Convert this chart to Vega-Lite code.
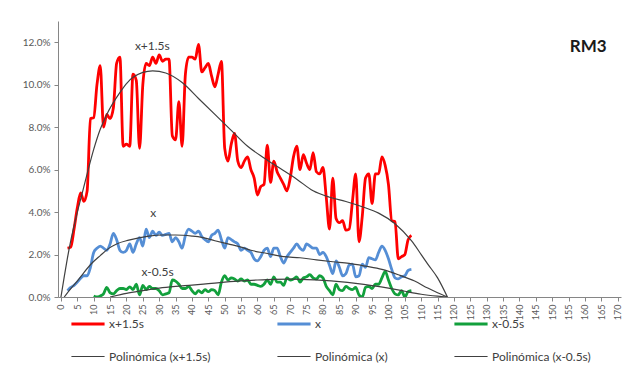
{
  "$schema": "https://vega.github.io/schema/vega-lite/v6.json",
  "autosize": {"type": "none"},
  "padding": {"left": 58, "top": 21, "right": 11, "bottom": 83},
  "width": 563,
  "height": 276,
  "background": "white",
  "config": {
    "view": {"stroke": null},
    "font": "Lato",
    "axis": {"domainColor": "#868686", "tickColor": "#868686", "labelColor": "#595959", "grid": false, "labelFont": "Lato", "title": null}
  },
  "datasets": {
    "obs": [
      {"s":"x+1.5s","v":2,"p":0.023},{"s":"x+1.5s","v":3,"p":0.0235},{"s":"x+1.5s","v":4,"p":0.032},{"s":"x+1.5s","v":5,"p":0.042},{"s":"x+1.5s","v":6,"p":0.049},{"s":"x+1.5s","v":7,"p":0.045},{"s":"x+1.5s","v":8,"p":0.05},{"s":"x+1.5s","v":9,"p":0.084},{"s":"x+1.5s","v":10,"p":0.0845},{"s":"x+1.5s","v":11,"p":0.1},{"s":"x+1.5s","v":12,"p":0.109},{"s":"x+1.5s","v":13,"p":0.08},{"s":"x+1.5s","v":14,"p":0.086},{"s":"x+1.5s","v":15,"p":0.084},{"s":"x+1.5s","v":16,"p":0.089},{"s":"x+1.5s","v":17,"p":0.11},{"s":"x+1.5s","v":18,"p":0.113},{"s":"x+1.5s","v":19,"p":0.071},{"s":"x+1.5s","v":20,"p":0.072},{"s":"x+1.5s","v":21,"p":0.071},{"s":"x+1.5s","v":22,"p":0.105},{"s":"x+1.5s","v":23,"p":0.102},{"s":"x+1.5s","v":24,"p":0.07},{"s":"x+1.5s","v":25,"p":0.1},{"s":"x+1.5s","v":26,"p":0.11},{"s":"x+1.5s","v":27,"p":0.109},{"s":"x+1.5s","v":28,"p":0.113},{"s":"x+1.5s","v":29,"p":0.11},{"s":"x+1.5s","v":30,"p":0.114},{"s":"x+1.5s","v":31,"p":0.111},{"s":"x+1.5s","v":32,"p":0.112},{"s":"x+1.5s","v":33,"p":0.112},{"s":"x+1.5s","v":34,"p":0.076},{"s":"x+1.5s","v":35,"p":0.074},{"s":"x+1.5s","v":36,"p":0.092},{"s":"x+1.5s","v":37,"p":0.071},{"s":"x+1.5s","v":38,"p":0.105},{"s":"x+1.5s","v":39,"p":0.113},{"s":"x+1.5s","v":40,"p":0.113},{"s":"x+1.5s","v":41,"p":0.112},{"s":"x+1.5s","v":42,"p":0.119},{"s":"x+1.5s","v":43,"p":0.106},{"s":"x+1.5s","v":44,"p":0.108},{"s":"x+1.5s","v":45,"p":0.11},{"s":"x+1.5s","v":46,"p":0.104},{"s":"x+1.5s","v":47,"p":0.099},{"s":"x+1.5s","v":48,"p":0.105},{"s":"x+1.5s","v":49,"p":0.111},{"s":"x+1.5s","v":50,"p":0.07},{"s":"x+1.5s","v":51,"p":0.064},{"s":"x+1.5s","v":52,"p":0.072},{"s":"x+1.5s","v":53,"p":0.077},{"s":"x+1.5s","v":54,"p":0.064},{"s":"x+1.5s","v":55,"p":0.061},{"s":"x+1.5s","v":56,"p":0.064},{"s":"x+1.5s","v":57,"p":0.066},{"s":"x+1.5s","v":58,"p":0.06},{"s":"x+1.5s","v":59,"p":0.056},{"s":"x+1.5s","v":60,"p":0.048},{"s":"x+1.5s","v":61,"p":0.052},{"s":"x+1.5s","v":62,"p":0.053},{"s":"x+1.5s","v":63,"p":0.0715},{"s":"x+1.5s","v":64,"p":0.054},{"s":"x+1.5s","v":65,"p":0.064},{"s":"x+1.5s","v":66,"p":0.059},{"s":"x+1.5s","v":67,"p":0.056},{"s":"x+1.5s","v":68,"p":0.053},{"s":"x+1.5s","v":69,"p":0.05},{"s":"x+1.5s","v":70,"p":0.056},{"s":"x+1.5s","v":71,"p":0.066},{"s":"x+1.5s","v":72,"p":0.071},{"s":"x+1.5s","v":73,"p":0.06},{"s":"x+1.5s","v":74,"p":0.067},{"s":"x+1.5s","v":75,"p":0.063},{"s":"x+1.5s","v":76,"p":0.06},{"s":"x+1.5s","v":77,"p":0.068},{"s":"x+1.5s","v":78,"p":0.059},{"s":"x+1.5s","v":79,"p":0.058},{"s":"x+1.5s","v":80,"p":0.061},{"s":"x+1.5s","v":81,"p":0.047},{"s":"x+1.5s","v":82,"p":0.032},{"s":"x+1.5s","v":83,"p":0.056},{"s":"x+1.5s","v":84,"p":0.037},{"s":"x+1.5s","v":85,"p":0.035},{"s":"x+1.5s","v":86,"p":0.036},{"s":"x+1.5s","v":87,"p":0.0315},{"s":"x+1.5s","v":88,"p":0.032},{"s":"x+1.5s","v":89,"p":0.045},{"s":"x+1.5s","v":90,"p":0.058},{"s":"x+1.5s","v":91,"p":0.026},{"s":"x+1.5s","v":92,"p":0.038},{"s":"x+1.5s","v":93,"p":0.056},{"s":"x+1.5s","v":94,"p":0.058},{"s":"x+1.5s","v":95,"p":0.044},{"s":"x+1.5s","v":96,"p":0.058},{"s":"x+1.5s","v":97,"p":0.058},{"s":"x+1.5s","v":98,"p":0.066},{"s":"x+1.5s","v":99,"p":0.062},{"s":"x+1.5s","v":100,"p":0.053},{"s":"x+1.5s","v":101,"p":0.036},{"s":"x+1.5s","v":102,"p":0.0355},{"s":"x+1.5s","v":103,"p":0.018},{"s":"x+1.5s","v":104,"p":0.019},{"s":"x+1.5s","v":105,"p":0.02},{"s":"x+1.5s","v":106,"p":0.027},{"s":"x+1.5s","v":107,"p":0.029},
      {"s":"x","v":2,"p":0.003},{"s":"x","v":3,"p":0.0045},{"s":"x","v":4,"p":0.0055},{"s":"x","v":5,"p":0.007},{"s":"x","v":6,"p":0.0088},{"s":"x","v":7,"p":0.01},{"s":"x","v":8,"p":0.01},{"s":"x","v":9,"p":0.014},{"s":"x","v":10,"p":0.021},{"s":"x","v":11,"p":0.023},{"s":"x","v":12,"p":0.024},{"s":"x","v":13,"p":0.023},{"s":"x","v":14,"p":0.022},{"s":"x","v":15,"p":0.025},{"s":"x","v":16,"p":0.03},{"s":"x","v":17,"p":0.027},{"s":"x","v":18,"p":0.022},{"s":"x","v":19,"p":0.021},{"s":"x","v":20,"p":0.022},{"s":"x","v":21,"p":0.025},{"s":"x","v":22,"p":0.021},{"s":"x","v":23,"p":0.025},{"s":"x","v":24,"p":0.028},{"s":"x","v":25,"p":0.024},{"s":"x","v":26,"p":0.032},{"s":"x","v":27,"p":0.028},{"s":"x","v":28,"p":0.031},{"s":"x","v":29,"p":0.029},{"s":"x","v":30,"p":0.0305},{"s":"x","v":31,"p":0.029},{"s":"x","v":32,"p":0.0295},{"s":"x","v":33,"p":0.03},{"s":"x","v":34,"p":0.026},{"s":"x","v":35,"p":0.028},{"s":"x","v":36,"p":0.026},{"s":"x","v":37,"p":0.023},{"s":"x","v":38,"p":0.029},{"s":"x","v":39,"p":0.032},{"s":"x","v":40,"p":0.031},{"s":"x","v":41,"p":0.03},{"s":"x","v":42,"p":0.031},{"s":"x","v":43,"p":0.0285},{"s":"x","v":44,"p":0.027},{"s":"x","v":45,"p":0.026},{"s":"x","v":46,"p":0.029},{"s":"x","v":47,"p":0.03},{"s":"x","v":48,"p":0.0315},{"s":"x","v":49,"p":0.027},{"s":"x","v":50,"p":0.023},{"s":"x","v":51,"p":0.028},{"s":"x","v":52,"p":0.027},{"s":"x","v":53,"p":0.026},{"s":"x","v":54,"p":0.025},{"s":"x","v":55,"p":0.022},{"s":"x","v":56,"p":0.023},{"s":"x","v":57,"p":0.022},{"s":"x","v":58,"p":0.021},{"s":"x","v":59,"p":0.018},{"s":"x","v":60,"p":0.017},{"s":"x","v":61,"p":0.019},{"s":"x","v":62,"p":0.022},{"s":"x","v":63,"p":0.023},{"s":"x","v":64,"p":0.019},{"s":"x","v":65,"p":0.023},{"s":"x","v":66,"p":0.023},{"s":"x","v":67,"p":0.019},{"s":"x","v":68,"p":0.016},{"s":"x","v":69,"p":0.019},{"s":"x","v":70,"p":0.021},{"s":"x","v":71,"p":0.023},{"s":"x","v":72,"p":0.025},{"s":"x","v":73,"p":0.023},{"s":"x","v":74,"p":0.022},{"s":"x","v":75,"p":0.025},{"s":"x","v":76,"p":0.024},{"s":"x","v":77,"p":0.023},{"s":"x","v":78,"p":0.023},{"s":"x","v":79,"p":0.02},{"s":"x","v":80,"p":0.021},{"s":"x","v":81,"p":0.019},{"s":"x","v":82,"p":0.015},{"s":"x","v":83,"p":0.011},{"s":"x","v":84,"p":0.017},{"s":"x","v":85,"p":0.014},{"s":"x","v":86,"p":0.01},{"s":"x","v":87,"p":0.011},{"s":"x","v":88,"p":0.015},{"s":"x","v":89,"p":0.0155},{"s":"x","v":90,"p":0.0095},{"s":"x","v":91,"p":0.01},{"s":"x","v":92,"p":0.0155},{"s":"x","v":93,"p":0.014},{"s":"x","v":94,"p":0.0185},{"s":"x","v":95,"p":0.018},{"s":"x","v":96,"p":0.0175},{"s":"x","v":97,"p":0.021},{"s":"x","v":98,"p":0.024},{"s":"x","v":99,"p":0.022},{"s":"x","v":100,"p":0.018},{"s":"x","v":101,"p":0.013},{"s":"x","v":102,"p":0.009},{"s":"x","v":103,"p":0.0085},{"s":"x","v":104,"p":0.0095},{"s":"x","v":105,"p":0.01},{"s":"x","v":106,"p":0.0125},{"s":"x","v":107,"p":0.013},
      {"s":"x-0.5s","v":10,"p":0.0005},{"s":"x-0.5s","v":11,"p":0.0},{"s":"x-0.5s","v":12,"p":0.0005},{"s":"x-0.5s","v":13,"p":0.0015},{"s":"x-0.5s","v":14,"p":0.0045},{"s":"x-0.5s","v":15,"p":0.002},{"s":"x-0.5s","v":16,"p":0.0015},{"s":"x-0.5s","v":17,"p":0.003},{"s":"x-0.5s","v":18,"p":0.004},{"s":"x-0.5s","v":19,"p":0.004},{"s":"x-0.5s","v":20,"p":0.0035},{"s":"x-0.5s","v":21,"p":0.0048},{"s":"x-0.5s","v":22,"p":0.0035},{"s":"x-0.5s","v":23,"p":0.006},{"s":"x-0.5s","v":24,"p":0.001},{"s":"x-0.5s","v":25,"p":0.0055},{"s":"x-0.5s","v":26,"p":0.0035},{"s":"x-0.5s","v":27,"p":0.005},{"s":"x-0.5s","v":28,"p":0.004},{"s":"x-0.5s","v":29,"p":0.004},{"s":"x-0.5s","v":30,"p":0.003},{"s":"x-0.5s","v":31,"p":0.001},{"s":"x-0.5s","v":32,"p":0.0015},{"s":"x-0.5s","v":33,"p":0.002},{"s":"x-0.5s","v":34,"p":0.008},{"s":"x-0.5s","v":35,"p":0.0075},{"s":"x-0.5s","v":36,"p":0.006},{"s":"x-0.5s","v":37,"p":0.004},{"s":"x-0.5s","v":38,"p":0.004},{"s":"x-0.5s","v":39,"p":0.005},{"s":"x-0.5s","v":40,"p":0.003},{"s":"x-0.5s","v":41,"p":0.0015},{"s":"x-0.5s","v":42,"p":0.003},{"s":"x-0.5s","v":43,"p":0.002},{"s":"x-0.5s","v":44,"p":0.0035},{"s":"x-0.5s","v":45,"p":0.0025},{"s":"x-0.5s","v":46,"p":0.0035},{"s":"x-0.5s","v":47,"p":0.003},{"s":"x-0.5s","v":48,"p":0.001},{"s":"x-0.5s","v":49,"p":0.007},{"s":"x-0.5s","v":50,"p":0.01},{"s":"x-0.5s","v":51,"p":0.008},{"s":"x-0.5s","v":52,"p":0.009},{"s":"x-0.5s","v":53,"p":0.0085},{"s":"x-0.5s","v":54,"p":0.0075},{"s":"x-0.5s","v":55,"p":0.0085},{"s":"x-0.5s","v":56,"p":0.0075},{"s":"x-0.5s","v":57,"p":0.008},{"s":"x-0.5s","v":58,"p":0.006},{"s":"x-0.5s","v":59,"p":0.006},{"s":"x-0.5s","v":60,"p":0.0055},{"s":"x-0.5s","v":61,"p":0.005},{"s":"x-0.5s","v":62,"p":0.006},{"s":"x-0.5s","v":63,"p":0.008},{"s":"x-0.5s","v":64,"p":0.006},{"s":"x-0.5s","v":65,"p":0.0095},{"s":"x-0.5s","v":66,"p":0.007},{"s":"x-0.5s","v":67,"p":0.007},{"s":"x-0.5s","v":68,"p":0.0055},{"s":"x-0.5s","v":69,"p":0.009},{"s":"x-0.5s","v":70,"p":0.008},{"s":"x-0.5s","v":71,"p":0.0085},{"s":"x-0.5s","v":72,"p":0.0095},{"s":"x-0.5s","v":73,"p":0.007},{"s":"x-0.5s","v":74,"p":0.009},{"s":"x-0.5s","v":75,"p":0.0095},{"s":"x-0.5s","v":76,"p":0.0105},{"s":"x-0.5s","v":77,"p":0.009},{"s":"x-0.5s","v":78,"p":0.0085},{"s":"x-0.5s","v":79,"p":0.01},{"s":"x-0.5s","v":80,"p":0.009},{"s":"x-0.5s","v":81,"p":0.005},{"s":"x-0.5s","v":82,"p":0.003},{"s":"x-0.5s","v":83,"p":0.001},{"s":"x-0.5s","v":84,"p":0.006},{"s":"x-0.5s","v":85,"p":0.0035},{"s":"x-0.5s","v":86,"p":0.003},{"s":"x-0.5s","v":87,"p":0.005},{"s":"x-0.5s","v":88,"p":0.004},{"s":"x-0.5s","v":89,"p":0.0035},{"s":"x-0.5s","v":90,"p":0.0045},{"s":"x-0.5s","v":91,"p":0.001},{"s":"x-0.5s","v":92,"p":0.0},{"s":"x-0.5s","v":93,"p":0.0045},{"s":"x-0.5s","v":94,"p":0.005},{"s":"x-0.5s","v":95,"p":0.004},{"s":"x-0.5s","v":96,"p":0.006},{"s":"x-0.5s","v":97,"p":0.006},{"s":"x-0.5s","v":98,"p":0.009},{"s":"x-0.5s","v":99,"p":0.012},{"s":"x-0.5s","v":100,"p":0.008},{"s":"x-0.5s","v":101,"p":0.004},{"s":"x-0.5s","v":102,"p":0.0015},{"s":"x-0.5s","v":103,"p":0.001},{"s":"x-0.5s","v":104,"p":0.003},{"s":"x-0.5s","v":105,"p":0.0},{"s":"x-0.5s","v":106,"p":0.0025},{"s":"x-0.5s","v":107,"p":0.003}
    ],
    "trend": [
      {"s":"Polinómica (x+1.5s)","v":0,"p":0.0},{"s":"Polinómica (x+1.5s)","v":1,"p":0.0095},{"s":"Polinómica (x+1.5s)","v":2,"p":0.0185},{"s":"Polinómica (x+1.5s)","v":3,"p":0.0265},{"s":"Polinómica (x+1.5s)","v":4,"p":0.0335},{"s":"Polinómica (x+1.5s)","v":5,"p":0.04},{"s":"Polinómica (x+1.5s)","v":6,"p":0.046},{"s":"Polinómica (x+1.5s)","v":7,"p":0.052},{"s":"Polinómica (x+1.5s)","v":8,"p":0.058},{"s":"Polinómica (x+1.5s)","v":10,"p":0.0695},{"s":"Polinómica (x+1.5s)","v":12,"p":0.079},{"s":"Polinómica (x+1.5s)","v":14,"p":0.086},{"s":"Polinómica (x+1.5s)","v":17,"p":0.094},{"s":"Polinómica (x+1.5s)","v":22,"p":0.1035},{"s":"Polinómica (x+1.5s)","v":28,"p":0.1065},{"s":"Polinómica (x+1.5s)","v":32,"p":0.1055},{"s":"Polinómica (x+1.5s)","v":37,"p":0.101},{"s":"Polinómica (x+1.5s)","v":42,"p":0.0935},{"s":"Polinómica (x+1.5s)","v":47,"p":0.086},{"s":"Polinómica (x+1.5s)","v":52,"p":0.0785},{"s":"Polinómica (x+1.5s)","v":57,"p":0.071},{"s":"Polinómica (x+1.5s)","v":62,"p":0.0655},{"s":"Polinómica (x+1.5s)","v":67,"p":0.0605},{"s":"Polinómica (x+1.5s)","v":72,"p":0.0555},{"s":"Polinómica (x+1.5s)","v":77,"p":0.05},{"s":"Polinómica (x+1.5s)","v":82,"p":0.047},{"s":"Polinómica (x+1.5s)","v":87,"p":0.045},{"s":"Polinómica (x+1.5s)","v":92,"p":0.0425},{"s":"Polinómica (x+1.5s)","v":97,"p":0.0395},{"s":"Polinómica (x+1.5s)","v":102,"p":0.0345},{"s":"Polinómica (x+1.5s)","v":107,"p":0.0265},{"s":"Polinómica (x+1.5s)","v":110,"p":0.02},{"s":"Polinómica (x+1.5s)","v":112,"p":0.0155},{"s":"Polinómica (x+1.5s)","v":115,"p":0.009},{"s":"Polinómica (x+1.5s)","v":118,"p":0.0},
      {"s":"Polinómica (x)","v":1,"p":0.0},{"s":"Polinómica (x)","v":3,"p":0.004},{"s":"Polinómica (x)","v":5,"p":0.0075},{"s":"Polinómica (x)","v":7,"p":0.0115},{"s":"Polinómica (x)","v":9.5,"p":0.016},{"s":"Polinómica (x)","v":12,"p":0.0195},{"s":"Polinómica (x)","v":14.6,"p":0.0229},{"s":"Polinómica (x)","v":17,"p":0.025},{"s":"Polinómica (x)","v":20.7,"p":0.0268},{"s":"Polinómica (x)","v":26.8,"p":0.0287},{"s":"Polinómica (x)","v":31,"p":0.0292},{"s":"Polinómica (x)","v":35,"p":0.0292},{"s":"Polinómica (x)","v":40,"p":0.0287},{"s":"Polinómica (x)","v":43,"p":0.0281},{"s":"Polinómica (x)","v":47,"p":0.0265},{"s":"Polinómica (x)","v":51,"p":0.025},{"s":"Polinómica (x)","v":55,"p":0.0235},{"s":"Polinómica (x)","v":58,"p":0.022},{"s":"Polinómica (x)","v":63,"p":0.0205},{"s":"Polinómica (x)","v":68,"p":0.019},{"s":"Polinómica (x)","v":73,"p":0.0185},{"s":"Polinómica (x)","v":78,"p":0.0175},{"s":"Polinómica (x)","v":83,"p":0.0166},{"s":"Polinómica (x)","v":88,"p":0.0158},{"s":"Polinómica (x)","v":93,"p":0.0145},{"s":"Polinómica (x)","v":98,"p":0.013},{"s":"Polinómica (x)","v":103,"p":0.0105},{"s":"Polinómica (x)","v":108,"p":0.0075},{"s":"Polinómica (x)","v":112,"p":0.0042},{"s":"Polinómica (x)","v":115,"p":0.002},{"s":"Polinómica (x)","v":118,"p":0.0},
      {"s":"Polinómica (x-0.5s)","v":15,"p":0.0},{"s":"Polinómica (x-0.5s)","v":20,"p":0.0017},{"s":"Polinómica (x-0.5s)","v":25,"p":0.003},{"s":"Polinómica (x-0.5s)","v":30,"p":0.0042},{"s":"Polinómica (x-0.5s)","v":35,"p":0.005},{"s":"Polinómica (x-0.5s)","v":40,"p":0.0056},{"s":"Polinómica (x-0.5s)","v":45,"p":0.0063},{"s":"Polinómica (x-0.5s)","v":50,"p":0.007},{"s":"Polinómica (x-0.5s)","v":55,"p":0.0076},{"s":"Polinómica (x-0.5s)","v":60,"p":0.008},{"s":"Polinómica (x-0.5s)","v":65,"p":0.0083},{"s":"Polinómica (x-0.5s)","v":70,"p":0.0084},{"s":"Polinómica (x-0.5s)","v":75,"p":0.0082},{"s":"Polinómica (x-0.5s)","v":80,"p":0.0078},{"s":"Polinómica (x-0.5s)","v":85,"p":0.0072},{"s":"Polinómica (x-0.5s)","v":90,"p":0.0064},{"s":"Polinómica (x-0.5s)","v":95,"p":0.0054},{"s":"Polinómica (x-0.5s)","v":100,"p":0.0042},{"s":"Polinómica (x-0.5s)","v":105,"p":0.0027},{"s":"Polinómica (x-0.5s)","v":110,"p":0.0013},{"s":"Polinómica (x-0.5s)","v":115,"p":0.0004},{"s":"Polinómica (x-0.5s)","v":118,"p":0.0}
    ],
    "labels": [
      {"t":"x+1.5s","v":27.9,"p":0.118},
      {"t":"x","v":28.2,"p":0.0395},
      {"t":"x-0.5s","v":29.5,"p":0.0118}
    ],
    "tag": [
      {"t":"RM3","v":161,"p":0.1176}
    ]
  },
  "encoding": {
    "x": {"field": "v", "type": "quantitative", "scale": {"domain": [-0.9, 171], "nice": false, "zero": false},
      "axis": {"values": [0,5,10,15,20,25,30,35,40,45,50,55,60,65,70,75,80,85,90,95,100,105,110,115,120,125,130,135,140,145,150,155,160,165,170], "labelAngle": 270, "labelAlign": "right", "labelBaseline": "middle", "labelFontSize": 9, "labelPadding": 3, "tickSize": 4, "labelFlush": false, "labelOverlap": false}},
    "y": {"field": "p", "type": "quantitative", "scale": {"domain": [0, 0.13], "nice": false},
      "axis": {"values": [0,0.02,0.04,0.06,0.08,0.1,0.12], "format": ".1%", "labelFontSize": 10, "tickSize": 4, "labelPadding": 4}}
  },
  "layer": [
    {
      "data": {"name": "obs"},
      "mark": {"type": "line", "interpolate": "monotone", "clip": true},
      "encoding": {
        "color": {"field": "s", "type": "nominal", "scale": {"domain": ["x+1.5s","x","x-0.5s","Polinómica (x+1.5s)","Polinómica (x)","Polinómica (x-0.5s)"], "range": ["#FF0000","#558ED5","#12A03C","#404040","#404040","#404040"]},
          "legend": {"title": null, "orient": "none", "legendX": 12, "legendY": 285, "columns": 3, "direction": "horizontal", "symbolType": "stroke", "symbolSize": 1100, "labelFontSize": 12, "labelColor": "#404040", "labelFont": "Lato", "columnPadding": 60, "rowPadding": 9, "labelOffset": 3}},
        "strokeWidth": {"field": "s", "type": "nominal", "scale": {"type": "ordinal", "domain": ["x+1.5s","x","x-0.5s","Polinómica (x+1.5s)","Polinómica (x)","Polinómica (x-0.5s)"], "range": [2.8,2.8,2.8,1.2,1.2,1.2]}, "legend": {"title": null}},
        "detail": {"field": "s"}
      }
    },
    {
      "data": {"name": "trend"},
      "mark": {"type": "line", "interpolate": "monotone", "clip": true},
      "encoding": {
        "color": {"field": "s", "type": "nominal", "scale": {"domain": ["x+1.5s","x","x-0.5s","Polinómica (x+1.5s)","Polinómica (x)","Polinómica (x-0.5s)"], "range": ["#FF0000","#558ED5","#12A03C","#404040","#404040","#404040"]}},
        "strokeWidth": {"field": "s", "type": "nominal", "scale": {"type": "ordinal", "domain": ["x+1.5s","x","x-0.5s","Polinómica (x+1.5s)","Polinómica (x)","Polinómica (x-0.5s)"], "range": [2.8,2.8,2.8,1.2,1.2,1.2]}, "legend": {"title": null}},
        "detail": {"field": "s"}
      }
    },
    {
      "data": {"name": "labels"},
      "mark": {"type": "text", "fontSize": 12, "color": "#404040", "font": "Lato"},
      "encoding": {"text": {"field": "t"}}
    },
    {
      "data": {"name": "tag"},
      "mark": {"type": "text", "fontSize": 17, "fontWeight": "bold", "color": "#1a1a1a", "font": "Lato"},
      "encoding": {"text": {"field": "t"}}
    }
  ]
}
